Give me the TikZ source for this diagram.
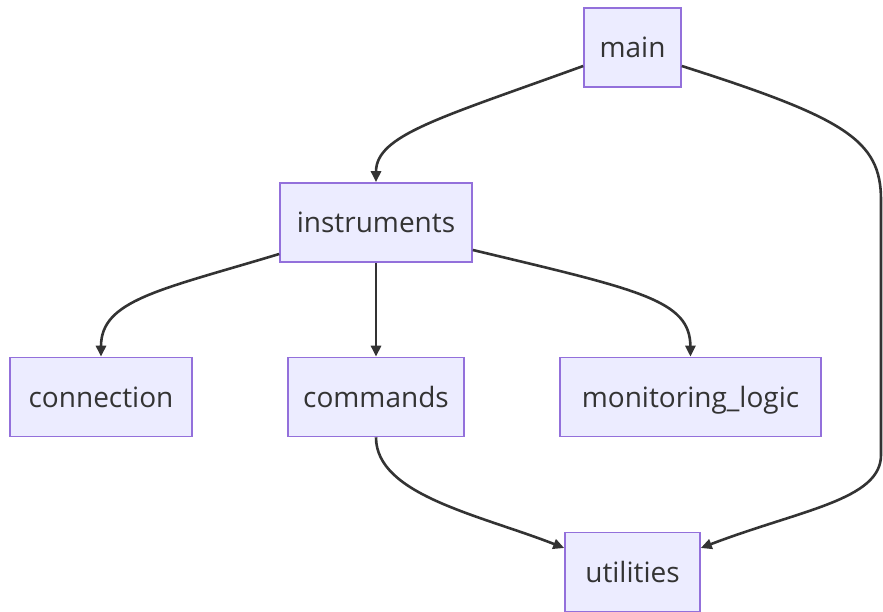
\documentclass[tikz,border=0pt]{standalone}
\usepackage{fontspec}
\setmainfont{Open Sans}
\usetikzlibrary{arrows.meta}
\definecolor{boxfill}{HTML}{ECECFF}
\definecolor{boxline}{HTML}{9370DB}
\definecolor{ink}{HTML}{333333}
\begin{document}
\begin{tikzpicture}[x=1pt,y=-1pt,
  mod/.style={draw=boxline,fill=boxfill,line width=1.6pt,text=ink,
    minimum height=79pt,inner sep=0pt,text height=23pt,text depth=3pt,
    font=\fontsize{28}{32}\selectfont},
  dep/.style={draw=ink,line width=2.6pt,
    -{Triangle[length=11pt,width=10pt]}}]
\useasboundingbox (0,0) rectangle (883,612);
% modules
\node[mod,minimum width=97pt]  (main)  at (632.5,47.5) {main};
\node[mod,minimum width=192pt] (instr) at (376,222.5) {instruments};
\node[mod,minimum width=182pt] (conn)  at (101,397) {connection};
\node[mod,minimum width=176pt] (cmds)  at (376,397) {commands};
\node[mod,minimum width=261pt] (mon)   at (690.5,397) {monitoring\_logic};
\node[mod,minimum width=135pt] (util)  at (632.5,572) {utilities};
% dependencies
\draw[dep] (main.west|-0,66) .. controls (440,118) and (376,135) .. (instr.north);
\draw[dep] (main.east|-0,66) .. controls (845,118) and (881,140) .. (881,200)
  -- (881,455) .. controls (881,500) and (800,510) .. (util.east|-0,548);
\draw[dep] (instr.west|-0,254) .. controls (160,290) and (101,300) .. (conn.north);
\draw[dep] (instr.south) -- (cmds.north);
\draw[dep] (instr.east|-0,250) .. controls (640,290) and (690,300) .. (mon.north);
\draw[dep] (cmds.south) .. controls (376,495) and (480,515) .. (util.west|-0,548);
\end{tikzpicture}
\end{document}
